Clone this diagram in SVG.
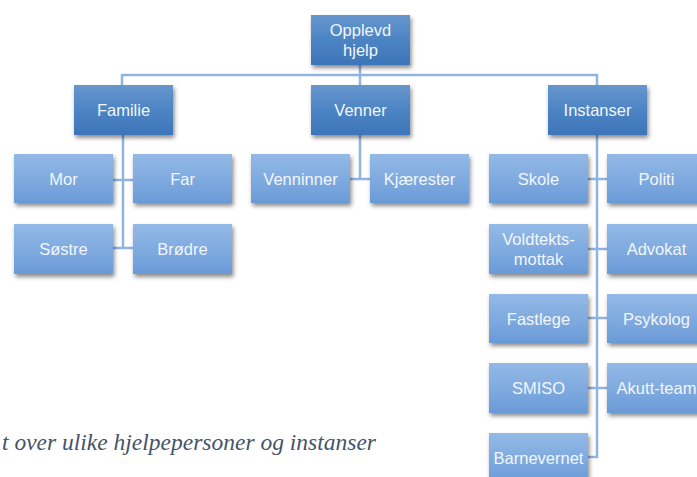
<svg xmlns="http://www.w3.org/2000/svg" width="697" height="477" viewBox="0 0 697 477">
<defs>
<linearGradient id="gDark" x1="0" y1="0" x2="0" y2="1">
<stop offset="0" stop-color="#6797CD"/>
<stop offset="0.5" stop-color="#4C84C4"/>
<stop offset="1" stop-color="#3C75B9"/>
</linearGradient>
<linearGradient id="gLight" x1="0" y1="0" x2="0" y2="1">
<stop offset="0" stop-color="#93B9E6"/>
<stop offset="0.5" stop-color="#80ABE0"/>
<stop offset="1" stop-color="#6A9AD7"/>
</linearGradient>
<filter id="sh" x="-20%" y="-20%" width="150%" height="160%">
<feDropShadow dx="1.5" dy="3" stdDeviation="2.2" flood-color="#000" flood-opacity="0.45"/>
</filter>
</defs>
<style>
.d{fill:url(#gDark);filter:url(#sh)}
.l{fill:url(#gLight);filter:url(#sh)}
text.t{font-family:"Liberation Sans",Arial,sans-serif;font-size:16.5px;fill:#F2F6FB;text-anchor:middle}
.c{stroke:#8FB4E2;stroke-width:2.5;fill:none}
.cap{font-family:"Liberation Serif","Times New Roman",serif;font-style:italic;font-size:23.5px;fill:#44546A}
</style>
<rect width="697" height="477" fill="#fff"/>
<g id="connectors">
<path class="c" d="M360,65V85M122,75H597M122,74V85M597,74V85"/>
<path class="c" d="M123,135V248M113,180H133M113,248H133"/>
<path class="c" d="M360,135V179M350,179H370"/>
<path class="c" d="M597,135V457H588M588,179H607M588,249H607M588,318H607M588,388H607"/>
</g>
<g id="n-opplevd"><rect class="d" x="311" y="15" width="99" height="50"/><text class="t" x="360.5" y="36">Opplevd</text><text class="t" x="360.5" y="56">hjelp</text></g>
<g id="n-familie"><rect class="d" x="74" y="85" width="99" height="50"/><text class="t" x="123.5" y="116">Familie</text></g>
<g id="n-venner"><rect class="d" x="311" y="85" width="99" height="50"/><text class="t" x="360.5" y="116">Venner</text></g>
<g id="n-instanser"><rect class="d" x="548" y="85" width="99" height="50"/><text class="t" x="597.5" y="116">Instanser</text></g>
<g id="n-mor"><rect class="l" x="14" y="154" width="99" height="49"/><text class="t" x="63.5" y="185">Mor</text></g>
<g id="n-far"><rect class="l" x="133" y="154" width="99" height="49"/><text class="t" x="182.5" y="185">Far</text></g>
<g id="n-sostre"><rect class="l" x="14" y="224" width="99" height="50"/><text class="t" x="63.5" y="255">Søstre</text></g>
<g id="n-brodre"><rect class="l" x="133" y="224" width="99" height="50"/><text class="t" x="182.5" y="255">Brødre</text></g>
<g id="n-venninner"><rect class="l" x="251" y="154" width="99" height="49"/><text class="t" x="300.5" y="185">Venninner</text></g>
<g id="n-kjaerester"><rect class="l" x="370" y="154" width="99" height="49"/><text class="t" x="419.5" y="185">Kjærester</text></g>
<g id="n-skole"><rect class="l" x="489" y="154" width="99" height="49"/><text class="t" x="538.5" y="185">Skole</text></g>
<g id="n-politi"><rect class="l" x="607" y="154" width="99" height="49"/><text class="t" x="656.5" y="185">Politi</text></g>
<g id="n-voldtekt"><rect class="l" x="489" y="224" width="99" height="50"/><text class="t" x="538.5" y="245">Voldtekts-</text><text class="t" x="538.5" y="265">mottak</text></g>
<g id="n-advokat"><rect class="l" x="607" y="224" width="99" height="50"/><text class="t" x="656.5" y="255">Advokat</text></g>
<g id="n-fastlege"><rect class="l" x="489" y="294" width="99" height="49"/><text class="t" x="538.5" y="325">Fastlege</text></g>
<g id="n-psykolog"><rect class="l" x="607" y="294" width="99" height="49"/><text class="t" x="656.5" y="325">Psykolog</text></g>
<g id="n-smiso"><rect class="l" x="489" y="363" width="99" height="50"/><text class="t" x="538.5" y="394">SMISO</text></g>
<g id="n-akutt"><rect class="l" x="607" y="363" width="99" height="50"/><text class="t" x="656.5" y="394">Akutt-team</text></g>
<g id="n-barnevernet"><rect class="l" x="489" y="433" width="99" height="50"/><text class="t" x="538.5" y="464">Barnevernet</text></g>
<text class="cap" x="376" y="450" text-anchor="end">t over ulike hjelpepersoner og instanser</text>
</svg>
